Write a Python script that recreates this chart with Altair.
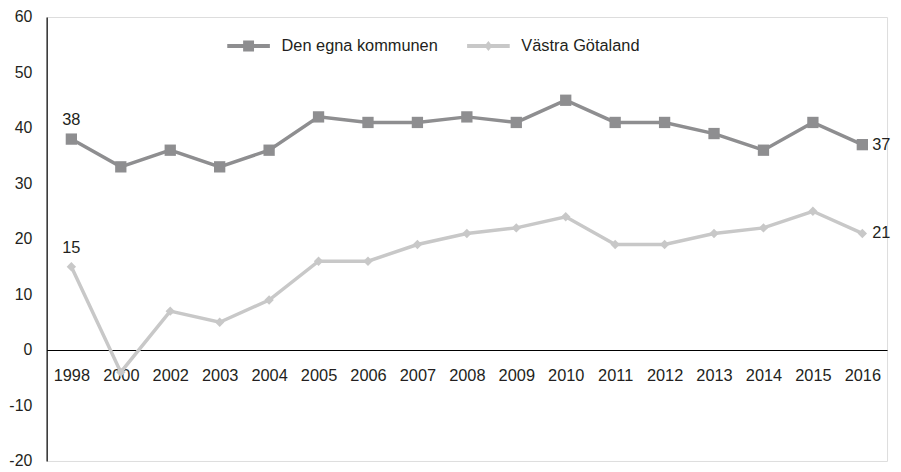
import altair as alt
import pandas as pd

years = ["1998", "2000", "2002", "2003", "2004", "2005", "2006", "2007", "2008",
         "2009", "2010", "2011", "2012", "2013", "2014", "2015", "2016"]
den_egna = [38, 33, 36, 33, 36, 42, 41, 41, 42, 41, 45, 41, 41, 39, 36, 41, 37]
vastra = [15, -4, 7, 5, 9, 16, 16, 19, 21, 22, 24, 19, 19, 21, 22, 25, 21]
series = ["Den egna kommunen", "Västra Götaland"]
colors = ["#8e8e90", "#c8c8c8"]
shapes = ["square", "diamond"]
legend_shapes = ["M-4.3,-0.4H4.3V0.4H-4.3ZM-1.1,-1.1H1.1V1.1H-1.1Z",
                 "M-4.3,-0.4H4.3V0.4H-4.3ZM0,-1L0.8,0L0,1L-0.8,0Z"]
legend_x = [195.5, 437.5]
y_ticks = [-20, -10, 0, 10, 20, 30, 40, 50, 60]

rows = []
for i, y in enumerate(years):
    rows.append({"year": y, "series": series[0], "value": den_egna[i], "idx": i})
    rows.append({"year": y, "series": series[1], "value": vastra[i], "idx": i})
df = pd.DataFrame(rows)

W, H = 848, 448
FONT = "Liberation Sans"
TXT = "#231f20"
FS = 16.5

x_enc = alt.X("year:O", sort=years,
              scale=alt.Scale(type="point", padding=0.5),
              axis=alt.Axis(title=None, orient="bottom", offset=-112, ticks=False,
                            domainColor="#000000", domainWidth=1.2, labelAngle=0,
                            labelFontSize=FS, labelFont=FONT, labelColor=TXT,
                            labelPadding=18, grid=False))
y_enc = alt.Y("value:Q", scale=alt.Scale(domain=[-20, 60], nice=False, zero=False),
              axis=alt.Axis(title=None, values=y_ticks, ticks=False, grid=False,
                            domainColor="#000000", domainWidth=1.2,
                            labelExpr="'' + datum.value",
                            labelFontSize=16, labelFont=FONT, labelColor=TXT,
                            labelPadding=15))

color_scale = alt.Scale(domain=series, range=colors)

base = alt.Chart(df).encode(x=x_enc, y=y_enc)

lines = base.mark_line(strokeWidth=3.5).encode(
    color=alt.Color("series:N", scale=color_scale, legend=None))
points = base.mark_point(filled=True, opacity=1).encode(
    color=alt.Color("series:N", scale=color_scale, legend=None),
    shape=alt.Shape("series:N", scale=alt.Scale(domain=series, range=shapes), legend=None),
    size=alt.Size("series:N", scale=alt.Scale(domain=series, range=[130, 90]), legend=None),
)

legend_layers = []
for k in range(len(series)):
    lg = alt.Legend(title=None, orient="none", legendX=legend_x[k], legendY=21,
                    direction="horizontal", symbolSize=100, symbolOpacity=1,
                    symbolStrokeWidth=0, symbolFillColor=colors[k],
                    labelFontSize=FS, labelFont=FONT, labelColor=TXT,
                    labelOffset=25, padding=0)
    legend_layers.append(
        base.transform_filter("false")
        .mark_point(filled=True, opacity=1, size=100, color=colors[k])
        .encode(shape=alt.Shape("series:N",
                                scale=alt.Scale(domain=[series[k]], range=[legend_shapes[k]]),
                                legend=lg))
    )

first_lbl = base.transform_filter(alt.datum.idx == 0).mark_text(
    dy=-19, fontSize=FS, font=FONT, color=TXT, align="center"
).encode(text="value:Q")
last_lbl = base.transform_filter(alt.datum.idx == len(years) - 1).mark_text(
    dx=10, fontSize=FS, font=FONT, color=TXT, align="left", baseline="middle"
).encode(text="value:Q")

chart = alt.layer(lines, points, *legend_layers, first_lbl, last_lbl).resolve_scale(
    shape="independent", size="independent"
).properties(
    width=W, height=H,
    autosize=alt.AutoSizeParams(type="none"),
    padding={"left": 39, "top": 7, "right": 6, "bottom": 6},
).configure_view(stroke=None).configure(font=FONT)

chart.save("out.html", embed_options={"renderer": "svg", "actions": False})
